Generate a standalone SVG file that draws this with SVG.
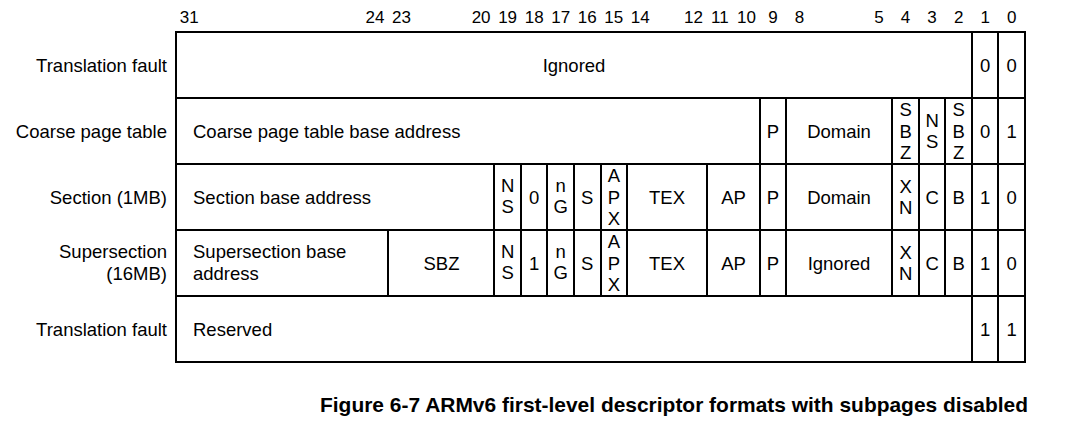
<svg xmlns="http://www.w3.org/2000/svg" width="1069" height="430" viewBox="0 0 1069 430">
  <style>
    text { font-family: "Liberation Sans", Arial, sans-serif; fill: #000; }
    .bit { font-size: 17px; text-anchor: middle; }
    .lbl { font-size: 18.5px; text-anchor: end; }
    .c { font-size: 18.5px; text-anchor: middle; }
    .l { font-size: 18.5px; text-anchor: start; }
    .cap { font-size: 20.5px; font-weight: bold; }
    .box { fill: #fff; stroke: #000; stroke-width: 2; }
    .sep { stroke: #000; stroke-width: 2; }
  </style>
  <rect width="1069" height="430" fill="#fff"/>

  <!-- bit numbers across the top -->
  <g id="bit-numbers">
    <text class="bit" x="189.3" y="23">31</text>
    <text class="bit" x="375" y="23">24</text>
    <text class="bit" x="401.5" y="23">23</text>
    <text class="bit" x="481.1" y="23">20</text>
    <text class="bit" x="507.6" y="23">19</text>
    <text class="bit" x="534.2" y="23">18</text>
    <text class="bit" x="560.7" y="23">17</text>
    <text class="bit" x="587.2" y="23">16</text>
    <text class="bit" x="613.8" y="23">15</text>
    <text class="bit" x="640.3" y="23">14</text>
    <text class="bit" x="693.4" y="23">12</text>
    <text class="bit" x="719.9" y="23">11</text>
    <text class="bit" x="746.4" y="23">10</text>
    <text class="bit" x="773" y="23">9</text>
    <text class="bit" x="799.5" y="23">8</text>
    <text class="bit" x="879.1" y="23">5</text>
    <text class="bit" x="905.6" y="23">4</text>
    <text class="bit" x="932.1" y="23">3</text>
    <text class="bit" x="958.7" y="23">2</text>
    <text class="bit" x="985.2" y="23">1</text>
    <text class="bit" x="1011.7" y="23">0</text>
  </g>

  <!-- row 1: translation fault -->
  <g id="row-fault">
    <rect class="box" x="176" y="32" width="849" height="66"/>
    <line class="sep" x1="972" y1="32" x2="972" y2="98"/>
    <line class="sep" x1="998" y1="32" x2="998" y2="98"/>
    <text class="lbl" x="167" y="72">Translation fault</text>
    <text class="c" x="574" y="72">Ignored</text>
    <text class="c" x="985.2" y="72">0</text>
    <text class="c" x="1011.7" y="72">0</text>
  </g>

  <!-- row 2: coarse page table -->
  <g id="row-coarse">
    <rect class="box" x="176" y="98" width="849" height="66"/>
    <line class="sep" x1="760" y1="98" x2="760" y2="164"/>
    <line class="sep" x1="786" y1="98" x2="786" y2="164"/>
    <line class="sep" x1="892" y1="98" x2="892" y2="164"/>
    <line class="sep" x1="919" y1="98" x2="919" y2="164"/>
    <line class="sep" x1="945" y1="98" x2="945" y2="164"/>
    <line class="sep" x1="972" y1="98" x2="972" y2="164"/>
    <line class="sep" x1="998" y1="98" x2="998" y2="164"/>
    <text class="lbl" x="167" y="138">Coarse page table</text>
    <text class="l" x="193" y="138">Coarse page table base address</text>
    <text class="c" x="773" y="138">P</text>
    <text class="c" x="839" y="138">Domain</text>
    <text class="c" x="905.6" y="116">S</text>
    <text class="c" x="905.6" y="137.5">B</text>
    <text class="c" x="905.6" y="159">Z</text>
    <text class="c" x="932.1" y="127">N</text>
    <text class="c" x="932.1" y="148">S</text>
    <text class="c" x="958.7" y="116">S</text>
    <text class="c" x="958.7" y="137.5">B</text>
    <text class="c" x="958.7" y="159">Z</text>
    <text class="c" x="985.2" y="138">0</text>
    <text class="c" x="1011.7" y="138">1</text>
  </g>

  <!-- row 3: section -->
  <g id="row-section">
    <rect class="box" x="176" y="164" width="849" height="66"/>
    <line class="sep" x1="494" y1="164" x2="494" y2="230"/>
    <line class="sep" x1="521" y1="164" x2="521" y2="230"/>
    <line class="sep" x1="547" y1="164" x2="547" y2="230"/>
    <line class="sep" x1="574" y1="164" x2="574" y2="230"/>
    <line class="sep" x1="601" y1="164" x2="601" y2="230"/>
    <line class="sep" x1="627" y1="164" x2="627" y2="230"/>
    <line class="sep" x1="707" y1="164" x2="707" y2="230"/>
    <line class="sep" x1="760" y1="164" x2="760" y2="230"/>
    <line class="sep" x1="786" y1="164" x2="786" y2="230"/>
    <line class="sep" x1="892" y1="164" x2="892" y2="230"/>
    <line class="sep" x1="919" y1="164" x2="919" y2="230"/>
    <line class="sep" x1="945" y1="164" x2="945" y2="230"/>
    <line class="sep" x1="972" y1="164" x2="972" y2="230"/>
    <line class="sep" x1="998" y1="164" x2="998" y2="230"/>
    <text class="lbl" x="167" y="204">Section (1MB)</text>
    <text class="l" x="193" y="204">Section base address</text>
    <text class="c" x="507.6" y="192">N</text>
    <text class="c" x="507.6" y="213">S</text>
    <text class="c" x="534.2" y="204">0</text>
    <text class="c" x="560.7" y="192">n</text>
    <text class="c" x="560.7" y="213">G</text>
    <text class="c" x="587.2" y="204">S</text>
    <text class="c" x="613.8" y="182">A</text>
    <text class="c" x="613.8" y="203.5">P</text>
    <text class="c" x="613.8" y="225">X</text>
    <text class="c" x="667" y="204">TEX</text>
    <text class="c" x="733.5" y="204">AP</text>
    <text class="c" x="773" y="204">P</text>
    <text class="c" x="839" y="204">Domain</text>
    <text class="c" x="905.6" y="193">X</text>
    <text class="c" x="905.6" y="214">N</text>
    <text class="c" x="932.1" y="204">C</text>
    <text class="c" x="958.7" y="204">B</text>
    <text class="c" x="985.2" y="204">1</text>
    <text class="c" x="1011.7" y="204">0</text>
  </g>

  <!-- row 4: supersection -->
  <g id="row-supersection">
    <rect class="box" x="176" y="230" width="849" height="66"/>
    <line class="sep" x1="388" y1="230" x2="388" y2="296"/>
    <line class="sep" x1="494" y1="230" x2="494" y2="296"/>
    <line class="sep" x1="521" y1="230" x2="521" y2="296"/>
    <line class="sep" x1="547" y1="230" x2="547" y2="296"/>
    <line class="sep" x1="574" y1="230" x2="574" y2="296"/>
    <line class="sep" x1="601" y1="230" x2="601" y2="296"/>
    <line class="sep" x1="627" y1="230" x2="627" y2="296"/>
    <line class="sep" x1="707" y1="230" x2="707" y2="296"/>
    <line class="sep" x1="760" y1="230" x2="760" y2="296"/>
    <line class="sep" x1="786" y1="230" x2="786" y2="296"/>
    <line class="sep" x1="892" y1="230" x2="892" y2="296"/>
    <line class="sep" x1="919" y1="230" x2="919" y2="296"/>
    <line class="sep" x1="945" y1="230" x2="945" y2="296"/>
    <line class="sep" x1="972" y1="230" x2="972" y2="296"/>
    <line class="sep" x1="998" y1="230" x2="998" y2="296"/>
    <text class="lbl" x="167" y="258">Supersection</text>
    <text class="lbl" x="167" y="280">(16MB)</text>
    <text class="l" x="193" y="258">Supersection base</text>
    <text class="l" x="193" y="280">address</text>
    <text class="c" x="441.5" y="270">SBZ</text>
    <text class="c" x="507.6" y="258">N</text>
    <text class="c" x="507.6" y="279">S</text>
    <text class="c" x="534.2" y="270">1</text>
    <text class="c" x="560.7" y="258">n</text>
    <text class="c" x="560.7" y="279">G</text>
    <text class="c" x="587.2" y="270">S</text>
    <text class="c" x="613.8" y="248">A</text>
    <text class="c" x="613.8" y="269.5">P</text>
    <text class="c" x="613.8" y="291">X</text>
    <text class="c" x="667" y="270">TEX</text>
    <text class="c" x="733.5" y="270">AP</text>
    <text class="c" x="773" y="270">P</text>
    <text class="c" x="839" y="270">Ignored</text>
    <text class="c" x="905.6" y="259">X</text>
    <text class="c" x="905.6" y="280">N</text>
    <text class="c" x="932.1" y="270">C</text>
    <text class="c" x="958.7" y="270">B</text>
    <text class="c" x="985.2" y="270">1</text>
    <text class="c" x="1011.7" y="270">0</text>
  </g>

  <!-- row 5: reserved encoding -->
  <g id="row-reserved">
    <rect class="box" x="176" y="296" width="849" height="66"/>
    <line class="sep" x1="972" y1="296" x2="972" y2="362"/>
    <line class="sep" x1="998" y1="296" x2="998" y2="362"/>
    <text class="lbl" x="167" y="336">Translation fault</text>
    <text class="l" x="193" y="336">Reserved</text>
    <text class="c" x="985.2" y="336">1</text>
    <text class="c" x="1011.7" y="336">1</text>
  </g>

  <g id="caption">
    <text class="cap" x="320" y="412" textLength="708" lengthAdjust="spacingAndGlyphs">Figure 6-7 ARMv6 first-level descriptor formats with subpages disabled</text>
  </g>
</svg>
